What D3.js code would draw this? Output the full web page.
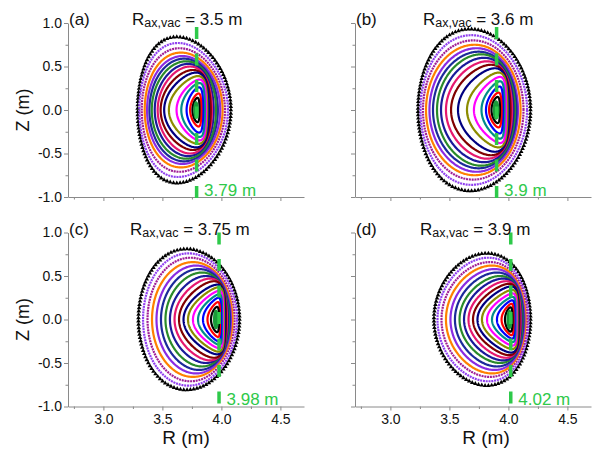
<!DOCTYPE html>
<html><head><meta charset="utf-8">
<script src="https://cdn.jsdelivr.net/npm/d3@7"></script>
<style>body{margin:0;background:#fff}svg{display:block}text{font-family:Arial,"Liberation Sans",sans-serif}</style>
</head><body><svg id="c" width="598" height="452"></svg>
<script>
// ---------- data ----------
const panelLabels = ["(a)", "(b)", "(c)", "(d)"];
const raxVac = ["3.5", "3.6", "3.75", "3.9"];
const raxValue = [3.79, 3.9, 3.98, 4.02];
const raxLabel = ["3.79 m", "3.9 m", "3.98 m", "4.02 m"];
const xMajor = [3.0, 3.5, 4.0, 4.5];
const xMinor = [2.75, 3.25, 3.75, 4.25];
const yMajor = [-1.0, -0.5, 0.0, 0.5, 1.0];
const yMinor = [-0.75, -0.25, 0.25, 0.75];
// surface colours, innermost -> outermost
const surfaceColors = ["#1a9a3a", "#000000", "#ff0000", "#0000ff", "#008b8b", "#ff00ff", "#8c8c00", "#000080",
  "#800000", "#e6186e", "#1a1a9a", "#2a8a2a", "#1c2a9a", "#8a2be2", "#ff8000", "#a01e96", "#9040f0", "#000000"];
// per surface: inboard midplane R, outboard midplane R, top Z, R at top  (innermost -> outermost)
const rinA  = [3.77, 3.755, 3.735, 3.705, 3.66, 3.62, 3.555, 3.515, 3.485, 3.46, 3.435, 3.41, 3.39, 3.37, 3.35, 3.325, 3.305, 3.29];
const routA = [3.80, 3.815, 3.83, 3.845, 3.86, 3.87, 3.88, 3.895, 3.91, 3.92, 3.935, 3.955, 3.97, 3.99, 4.01, 4.03, 4.055, 4.08];
const ztopA = [0.09, 0.14, 0.19, 0.26, 0.31, 0.35, 0.39, 0.43, 0.46, 0.50, 0.53, 0.56, 0.59, 0.62, 0.66, 0.71, 0.77, 0.84];
const rtopA = [3.785, 3.797, 3.806, 3.81, 3.814, 3.814, 3.802, 3.785, 3.759, 3.734, 3.717, 3.70, 3.683, 3.67, 3.658, 3.645, 3.632, 3.624];

const rinB  = [3.875, 3.857, 3.836, 3.81, 3.772, 3.708, 3.649, 3.573, 3.514, 3.471, 3.429, 3.395, 3.361, 3.331, 3.302, 3.276, 3.255, 3.234];
const routB = [3.916, 3.929, 3.942, 3.954, 3.967, 3.98, 3.992, 4.005, 4.018, 4.031, 4.043, 4.056, 4.069, 4.081, 4.103, 4.128, 4.158, 4.187];
const ztopB = [0.10, 0.15, 0.20, 0.27, 0.33, 0.38, 0.43, 0.48, 0.52, 0.56, 0.60, 0.64, 0.67, 0.71, 0.75, 0.80, 0.86, 0.93];
const rtopB = [3.895, 3.908, 3.916, 3.925, 3.929, 3.929, 3.916, 3.886, 3.853, 3.819, 3.793, 3.768, 3.747, 3.73, 3.713, 3.70, 3.687, 3.675];

const rinC  = [3.937, 3.912, 3.882, 3.844, 3.802, 3.759, 3.717, 3.679, 3.641, 3.603, 3.564, 3.526, 3.488, 3.45, 3.412, 3.374, 3.336, 3.297];
const routC = [3.971, 3.98, 3.988, 3.997, 4.005, 4.014, 4.022, 4.031, 4.039, 4.047, 4.056, 4.064, 4.073, 4.081, 4.094, 4.111, 4.132, 4.153];
const ztopC = [0.10, 0.145, 0.20, 0.25, 0.29, 0.33, 0.37, 0.40, 0.44, 0.47, 0.50, 0.54, 0.58, 0.62, 0.66, 0.71, 0.76, 0.81];
const rtopC = [3.954, 3.963, 3.971, 3.975, 3.98, 3.98, 3.975, 3.963, 3.937, 3.903, 3.869, 3.836, 3.81, 3.785, 3.759, 3.738, 3.721, 3.704];

const rinD  = [3.992, 3.971, 3.942, 3.903, 3.861, 3.819, 3.776, 3.738, 3.70, 3.662, 3.624, 3.586, 3.547, 3.509, 3.471, 3.433, 3.399, 3.369];
const routD = [4.026, 4.035, 4.043, 4.052, 4.06, 4.069, 4.077, 4.086, 4.094, 4.103, 4.111, 4.119, 4.128, 4.136, 4.145, 4.158, 4.17, 4.187];
const ztopD = [0.10, 0.14, 0.18, 0.22, 0.26, 0.30, 0.34, 0.38, 0.41, 0.44, 0.47, 0.50, 0.54, 0.58, 0.62, 0.66, 0.71, 0.76];
const rtopD = [4.009, 4.018, 4.026, 4.031, 4.035, 4.035, 4.031, 4.022, 4.005, 3.98, 3.954, 3.929, 3.903, 3.882, 3.861, 3.844, 3.831, 3.819];

const surfaces = [
  {rin: rinA, rout: routA, ztop: ztopA, rtop: rtopA},
  {rin: rinB, rout: routB, ztop: ztopB, rtop: rtopB},
  {rin: rinC, rout: routC, ztop: ztopC, rtop: rtopC},
  {rin: rinD, rout: routD, ztop: ztopD, rtop: rtopD}
];

// ---------- layout ----------
const W = 236, H = 174;
const layout = [
  {x0: 68, y0: 23, yLab: true, xLab: false, titleX: 64, rTitleX: null},
  {x0: 355, y0: 23, yLab: false, xLab: false, titleX: 68, rTitleX: null},
  {x0: 68, y0: 232.5, yLab: true, xLab: true, titleX: 62, rTitleX: 118},
  {x0: 355, y0: 232.5, yLab: false, xLab: true, titleX: 65, rTitleX: 131}
];
const svg = d3.select("#c");
const x = d3.scaleLinear().domain([2.7, 4.7]).range([0, W]);
const y = d3.scaleLinear().domain([-1, 1]).range([H, 0]);
const axisColor = "#8a8a8a";
const green = "#2ec94a";

layout.forEach((L, p) => {
  const g = svg.append("g").attr("transform", `translate(${L.x0},${L.y0})`);

  // axes
  const xa = g.append("g").attr("transform", `translate(0,${H})`)
    .call(d3.axisBottom(x).tickValues(xMajor).tickSize(4).tickSizeOuter(0)
      .tickFormat(L.xLab ? (d => d.toFixed(1)) : ""));
  g.append("g").attr("transform", `translate(0,${H})`)
    .call(d3.axisBottom(x).tickValues(xMinor).tickSize(2.5).tickSizeOuter(0).tickFormat(""))
    .select(".domain").remove();
  const ya = g.append("g")
    .call(d3.axisLeft(y).tickValues(yMajor).tickSize(4).tickSizeOuter(0)
      .tickFormat(L.yLab ? (d => d.toFixed(1)) : ""));
  g.append("g")
    .call(d3.axisLeft(y).tickValues(yMinor).tickSize(2.5).tickSizeOuter(0).tickFormat(""))
    .select(".domain").remove();
  g.selectAll(".domain, .tick line").attr("stroke", axisColor).attr("stroke-width", 1);
  g.selectAll(".tick text").attr("fill", "#111").style("font-size", "14px")
    .style("font-family", "Arial, 'Liberation Sans', sans-serif");
  ya.selectAll(".tick text").attr("x", -6);
  xa.selectAll(".tick text").attr("y", 8);

  // surfaces
  const S = surfaces[p];
  const line = d3.line().x(d => x(d[0])).y(d => y(d[1])).curve(d3.curveLinearClosed);
  const sg = g.append("g");
  for (let i = surfaceColors.length - 1; i >= 0; i--) {
    const rin = S.rin[i], rout = S.rout[i], zt = S.ztop[i], rt = S.rtop[i];
    const rc = (rin + rout) / 2, a = (rout - rin) / 2;
    let del = (rc - rt) / a;
    del = Math.max(-0.88, Math.min(0.88, del));
    const sdel = Math.asin(del);
    const pts = d3.range(360).map(k => {
      const th = 2 * Math.PI * k / 360;
      return [rc + a * Math.cos(th + sdel * Math.sin(th)), zt * Math.sin(th)];
    });
    const col = surfaceColors[i];
    if (i === surfaceColors.length - 1) {
      // outermost surface: triangle markers
      const path = sg.append("path").attr("d", line(pts)).attr("fill", "none").attr("stroke", "none");
      const len = path.node().getTotalLength();
      const n = Math.floor(len / 3.3);
      const tri = d3.symbol().type(d3.symbolTriangle).size(9);
      for (let k = 0; k < n; k++) {
        const pt = path.node().getPointAtLength(k * len / n);
        sg.append("path").attr("d", tri()).attr("transform", `translate(${pt.x},${pt.y})`).attr("fill", col);
      }
    } else if (i === 0) {
      sg.append("path").attr("d", line(pts)).attr("fill", col).attr("stroke", col).attr("stroke-width", 2);
    } else {
      sg.append("path").attr("d", line(pts)).attr("fill", "none").attr("stroke", col)
        .attr("stroke-width", i >= 15 ? 2.2 : 2.2)
        .attr("stroke-dasharray", i >= 15 ? "2,0.8" : null);
    }
  }

  // vertical magnetic-axis line
  const yTopLine = p < 2 ? 4 : 0;
  g.append("line").attr("x1", x(raxValue[p])).attr("x2", x(raxValue[p]))
    .attr("y1", yTopLine).attr("y2", H + 2)
    .attr("stroke", green).attr("stroke-width", 3.5).attr("stroke-dasharray", "12,14.5");
  g.append("text").attr("x", x(raxValue[p]) + 7.5).attr("y", H - 1.5)
    .attr("fill", green).style("font-size", "17px").text(raxLabel[p]);

  // panel label and title
  g.append("text").attr("x", 1).attr("y", 2).attr("fill", "#111").style("font-size", "17px").text(panelLabels[p]);
  const t = g.append("text").attr("x", L.titleX).attr("y", 2).attr("fill", "#111").style("font-size", "17px");
  t.append("tspan").text("R");
  t.append("tspan").attr("dy", 2).style("font-size", "12.5px").text("ax,vac");
  t.append("tspan").attr("dy", -2).text(" = " + raxVac[p] + " m");

  // axis titles
  if (L.yLab) {
    g.append("text").attr("transform", `translate(${29 - L.x0},${H / 2}) rotate(-90)`)
      .attr("text-anchor", "middle").attr("fill", "#111").style("font-size", "18px").text("Z (m)");
  }
  if (L.xLab) {
    g.append("text").attr("x", L.rTitleX).attr("y", 444 - L.y0).attr("text-anchor", "middle")
      .attr("fill", "#111").style("font-size", "19px").text("R (m)");
  }
});
</script></body></html>
